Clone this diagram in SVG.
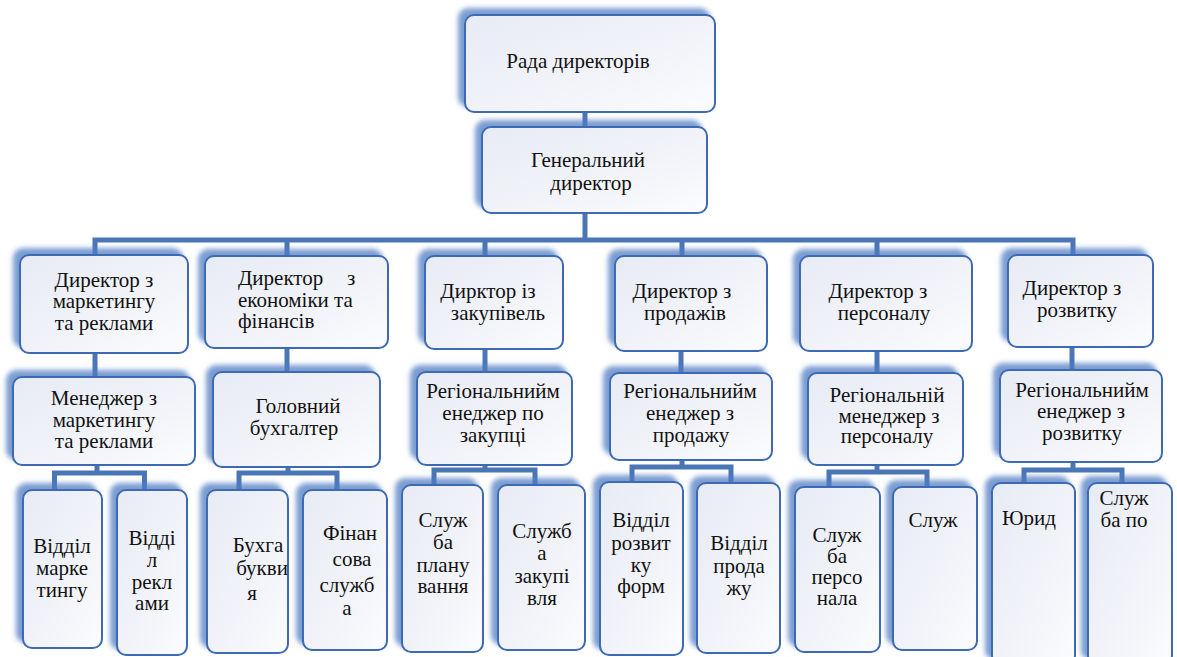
<svg xmlns="http://www.w3.org/2000/svg" width="1177" height="657" viewBox="0 0 1177 657">
<defs>
<linearGradient id="fill" x1="0" y1="0" x2="1" y2="1">
<stop offset="0" stop-color="#E7EBF4"/>
<stop offset="0.55" stop-color="#F1F3F9"/>
<stop offset="1" stop-color="#FBFCFE"/>
</linearGradient>
<filter id="sh" x="-25%" y="-25%" width="150%" height="150%">
<feGaussianBlur in="SourceAlpha" stdDeviation="2.5" result="b"/>
<feOffset in="b" dx="-6" dy="-6" result="o"/>
<feFlood flood-color="#4F7CC2" flood-opacity="0.75"/>
<feComposite in2="o" operator="in" result="s"/>
<feMerge><feMergeNode in="s"/><feMergeNode in="SourceGraphic"/></feMerge>
</filter>
</defs>
<style>
.box{fill:url(#fill);stroke:#3D6AB3;stroke-width:2;filter:url(#sh)}
.c{fill:none;stroke:#4A76B6;stroke-width:5;stroke-linejoin:miter}
text{font-size:21px;fill:#111;text-anchor:middle}
</style>
<rect width="1177" height="657" fill="#fff"/>
<g id="connectors">
<path class="c" d="M585 108V130"/>
<path class="c" d="M585 210V240"/>
<path class="c" d="M95 258V240H1073V258"/>
<path class="c" d="M287 240V258M485 240V258M682 240V258M877 240V258"/>
<path class="c" d="M95 350V380M287 345V375M485 346V375M681 348V376M877 348V376M1072 344V373"/>
<path class="c" d="M97 462V473M54.5 492V473H144.5V492"/>
<path class="c" d="M288 464V473M239 492V473H337V492"/>
<path class="c" d="M485 462V470M434 487V470H535V487"/>
<path class="c" d="M682 457V467M632 484V467H731V484"/>
<path class="c" d="M877 462V472M829 489V472H927V489"/>
<path class="c" d="M1073 459V470M1024 485V470H1122V485"/>
</g>
<g font-family="Liberation Serif, serif">
<g id="n-rada"><rect class="box" x="465" y="15" width="250" height="97" rx="9"/><text x="578" y="68">Рада директорів</text></g>
<g id="n-gen"><rect class="box" x="482" y="127" width="225" height="86" rx="9"/><text x="588" y="167">Генеральний</text><text x="591" y="190">директор</text></g>

<g id="n-d1"><rect class="box" x="20" y="255" width="168" height="98" rx="9"/><text x="104" y="287">Директор з</text><text x="104" y="308">маркетингу</text><text x="104" y="330">та реклами</text></g>
<g id="n-d2"><rect class="box" x="205" y="256" width="183" height="92" rx="9"/><text style="text-anchor:start"><tspan x="238" y="285">Директор</tspan><tspan x="347" y="285">з</tspan><tspan x="238" y="307">економіки та</tspan><tspan x="238" y="328">фінансів</tspan></text></g>
<g id="n-d3"><rect class="box" x="425" y="256" width="138" height="93" rx="9"/><text x="488" y="298">Дирктор із</text><text x="498" y="320">закупівель</text></g>
<g id="n-d4"><rect class="box" x="615" y="256" width="152" height="95" rx="9"/><text x="682" y="298">Директор з</text><text x="685" y="320">продажів</text></g>
<g id="n-d5"><rect class="box" x="800" y="256" width="172" height="95" rx="9"/><text x="878" y="298">Директор з</text><text x="884" y="320">персоналу</text></g>
<g id="n-d6"><rect class="box" x="1008" y="255" width="145" height="92" rx="9"/><text x="1072" y="295">Директор з</text><text x="1077" y="317">розвитку</text></g>

<g id="n-m1"><rect class="box" x="13" y="377" width="182" height="88" rx="9"/><text x="104" y="405">Менеджер з</text><text x="104" y="427">маркетингу</text><text x="104" y="448">та реклами</text></g>
<g id="n-m2"><rect class="box" x="213" y="372" width="167" height="95" rx="9"/><text x="298" y="413">Головний</text><text x="294" y="435">бухгалтер</text></g>
<g id="n-m3"><rect class="box" x="417" y="372" width="155" height="93" rx="9"/><text x="493" y="398">Регіональнийм</text><text x="493" y="420">енеджер по</text><text x="493" y="442">закупці</text></g>
<g id="n-m4"><rect class="box" x="610" y="373" width="162" height="87" rx="9"/><text x="690" y="398">Регіональнийм</text><text x="690" y="420">енеджер з</text><text x="691" y="442">продажу</text></g>
<g id="n-m5"><rect class="box" x="808" y="373" width="155" height="92" rx="9"/><text x="887" y="402">Регіональній</text><text x="889" y="423">менеджер з</text><text x="887" y="443">персоналу</text></g>
<g id="n-m6"><rect class="box" x="1000" y="370" width="162" height="92" rx="9"/><text x="1082" y="397">Регіональнийм</text><text x="1081" y="418">енеджер з</text><text x="1082" y="440">розвитку</text></g>

<g id="n-a"><rect class="box" x="23" y="490" width="79" height="158" rx="9"/><text x="62" y="553">Відділ</text><text x="62" y="575">марке</text><text x="62" y="597">тингу</text></g>
<g id="n-b"><rect class="box" x="117" y="490" width="70" height="165" rx="9"/><text x="152" y="545">Відді</text><text x="152" y="567">л</text><text x="152" y="589">рекл</text><text x="152" y="610">ами</text></g>
<g id="n-c"><rect class="box" x="207" y="490" width="81" height="163" rx="9"/><text x="258" y="552">Бухга</text><text x="262" y="575">букви</text><text x="252" y="600">я</text></g>
<g id="n-d"><rect class="box" x="303" y="490" width="84" height="160" rx="9"/><text x="350" y="540">Фінан</text><text x="352" y="566">сова</text><text x="347" y="592">служб</text><text x="347" y="615">а</text></g>
<g id="n-e"><rect class="box" x="402" y="485" width="81" height="167" rx="9"/><text x="443" y="527">Служ</text><text x="443" y="549">ба</text><text x="443" y="572">плану</text><text x="443" y="593">вання</text></g>
<g id="n-f"><rect class="box" x="498" y="485" width="87" height="165" rx="9"/><text x="542" y="538">Служб</text><text x="542" y="560">а</text><text x="542" y="583">закупі</text><text x="542" y="605">вля</text></g>
<g id="n-g"><rect class="box" x="600" y="482" width="83" height="173" rx="9"/><text x="641" y="527">Відділ</text><text x="641" y="550">розвит</text><text x="641" y="572">ку</text><text x="641" y="593">форм</text></g>
<g id="n-h"><rect class="box" x="697" y="483" width="83" height="170" rx="9"/><text x="739" y="550">Відділ</text><text x="739" y="573">прода</text><text x="739" y="595">жу</text></g>
<g id="n-i"><rect class="box" x="795" y="487" width="85" height="165" rx="9"/><text x="837" y="542">Служ</text><text x="837" y="563">ба</text><text x="837" y="584">персо</text><text x="837" y="605">нала</text></g>
<g id="n-j"><rect class="box" x="893" y="487" width="84" height="163" rx="9"/><text x="933" y="527">Служ</text></g>
<g id="n-k"><rect class="box" x="992" y="483" width="83" height="182" rx="9"/><text x="1029" y="525">Юрид</text></g>
<g id="n-l"><rect class="box" x="1088" y="483" width="84" height="182" rx="9"/><text x="1124" y="505">Служ</text><text x="1124" y="527">ба по</text></g>
</g>
</svg>
